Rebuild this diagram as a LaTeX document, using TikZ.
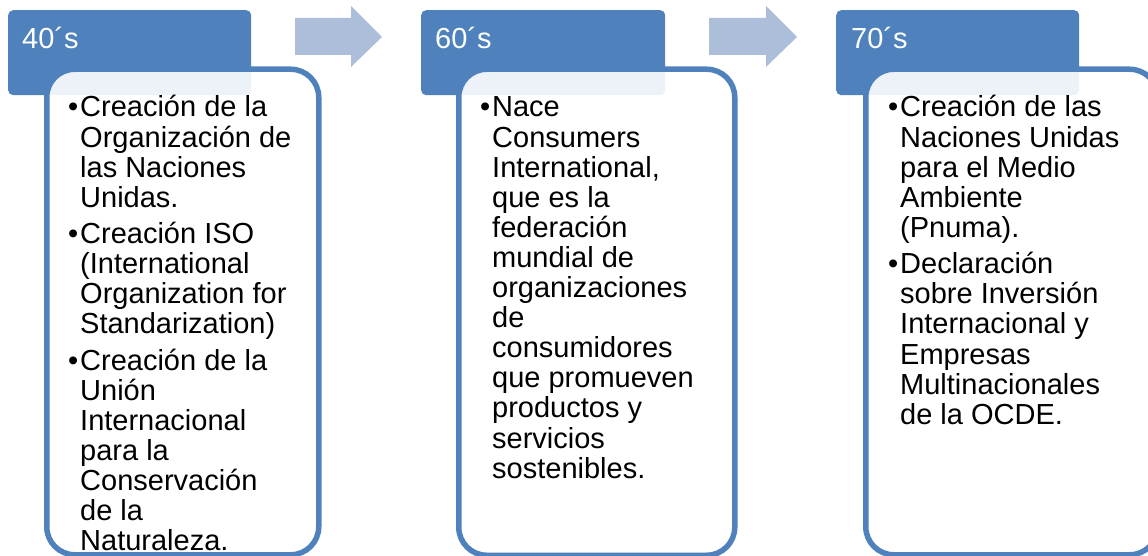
\documentclass[tikz,border=0pt]{standalone}
\usepackage{fontspec}
\setmainfont{Liberation Sans}
\definecolor{accent}{HTML}{4F81BD}
\definecolor{arrowc}{HTML}{ADBEDB}
\newcommand\bul{\llap{\makebox[12pt][l]{•}}}
\newcommand\cardtext[1]{\parbox[t]{330pt}{\fontsize{29}{30.1}\selectfont\hangindent=12pt\hangafter=0 \noindent #1}}
\tikzset{
  header/.style={draw=none, fill=accent, rounded corners=5pt, anchor=north west, inner sep=0pt},
  card/.style={draw=accent, line width=5.5pt, fill=white, fill opacity=0.9, draw opacity=1, rounded corners=28pt, anchor=north west, inner sep=0pt},
  label/.style={anchor=base west, inner sep=0pt, text=white, font=\fontsize{29}{30}\selectfont},
  body/.style={anchor=base west, inner sep=0pt, text=black},
  arrowshape/.style={fill=arrowc, draw=none}
}
\begin{document}
\begin{tikzpicture}[x=1pt, y=-1pt]
\useasboundingbox (0,0) rectangle (1148,556);
% headers
\node[header, minimum width=243pt, minimum height=85pt] (h1) at (8,10) {};
\node[header, minimum width=244pt, minimum height=85pt] (h2) at (421,10) {};
\node[header, minimum width=243pt, minimum height=85pt] (h3) at (836,10) {};
\node[label] (l1) at (22,49) {40´s};
\node[label] (l2) at (435,49) {60´s};
\node[label] (l3) at (851,49) {70´s};
% cards
\node[card, minimum width=272pt, minimum height=485.5pt] (c1) at (44,66.5) {};
\node[card, minimum width=276pt, minimum height=486pt] (c2) at (456,66.5) {};
\node[card, minimum width=292pt, minimum height=485.5pt] (c3) at (863,66.5) {};
% arrows
\fill[arrowshape] (295,18) -- (351,18) -- (351,6) -- (382,37) -- (351,67) -- (351,55) -- (295,55) -- cycle;
\fill[arrowshape] (709,18) -- (766,18) -- (766,6) -- (797,37) -- (766,67) -- (766,55) -- (709,55) -- cycle;
% texts
\node[body] (t1) at (68,117) {\cardtext{\bul Creación de la\\
Organización de\\
las Naciones\\
Unidas.\\[6.3pt]
\bul Creación ISO\\
(International\\
Organization for\\
Standarization)\\[6.3pt]
\bul Creación de la\\
Unión\\
Internacional\\
para la\\
Conservación\\
de la\\
Naturaleza.}};
\node[body] (t2) at (480,117) {\cardtext{\bul Nace\\
Consumers\\
International,\\
que es la\\
federación\\
mundial de\\
organizaciones\\
de\\
consumidores\\
que promueven\\
productos y\\
servicios\\
sostenibles.}};
\node[body] (t3) at (888,117) {\cardtext{\bul Creación de las\\
Naciones Unidas\\
para el Medio\\
Ambiente\\
(Pnuma).\\[6.3pt]
\bul Declaración\\
sobre Inversión\\
Internacional y\\
Empresas\\
Multinacionales\\
de la OCDE.}};
\end{tikzpicture}
\end{document}
